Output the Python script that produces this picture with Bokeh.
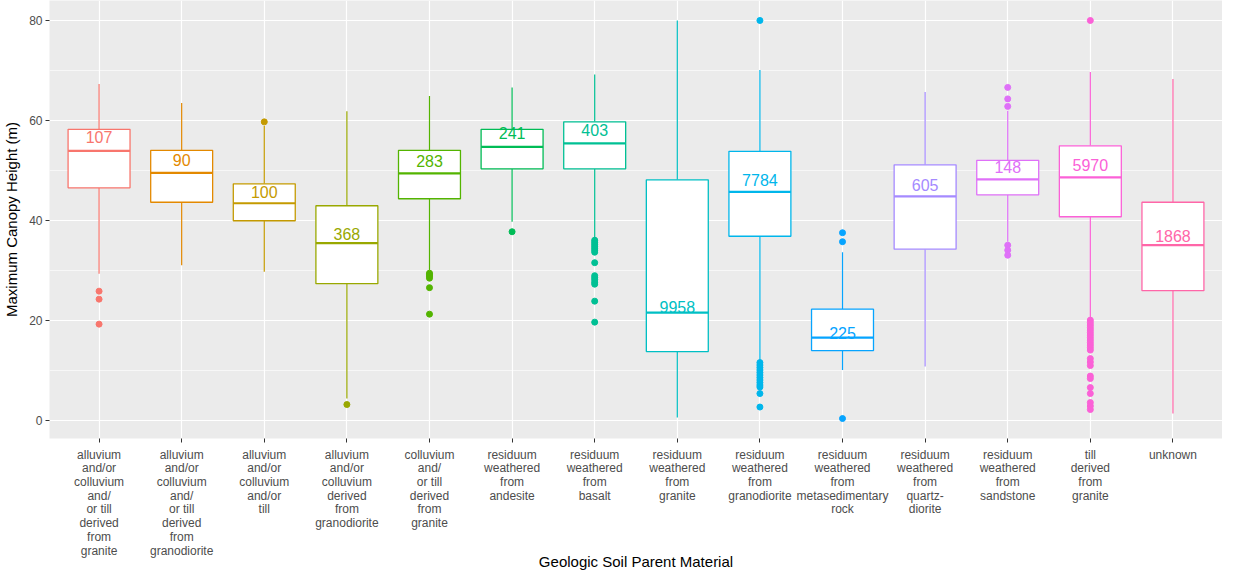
from bokeh.plotting import figure
from bokeh.layouts import column
from bokeh.models import Range1d, FixedTicker, SingleIntervalTicker, ColumnDataSource
from bokeh.embed import file_html
from bokeh.resources import INLINE
from bokeh.core.properties import value

categories = [
    "alluvium\nand/or\ncolluvium\nand/\nor till\nderived\nfrom\ngranite",
    "alluvium\nand/or\ncolluvium\nand/\nor till\nderived\nfrom\ngranodiorite",
    "alluvium\nand/or\ncolluvium\nand/or\ntill",
    "alluvium\nand/or\ncolluvium\nderived\nfrom\ngranodiorite",
    "colluvium\nand/\nor till\nderived\nfrom\ngranite",
    "residuum\nweathered\nfrom\nandesite",
    "residuum\nweathered\nfrom\nbasalt",
    "residuum\nweathered\nfrom\ngranite",
    "residuum\nweathered\nfrom\ngranodiorite",
    "residuum\nweathered\nfrom\nmetasedimentary\nrock",
    "residuum\nweathered\nfrom\nquartz-\ndiorite",
    "residuum\nweathered\nfrom\nsandstone",
    "till\nderived\nfrom\ngranite",
    "unknown",
]
counts = [107, 90, 100, 368, 283, 241, 403, 9958, 7784, 225, 605, 148, 5970, 1868]
lower_whisker = [29.3, 31.0, 29.7, 4.3, 30.0, 39.7, 36.4, 0.5, 11.6, 10.0, 10.7, 35.7, 20.1, 1.3]
q1 = [46.5, 43.6, 39.9, 27.3, 44.3, 50.3, 50.3, 13.7, 36.8, 13.9, 34.2, 45.1, 40.7, 25.9]
median = [53.9, 49.5, 43.4, 35.4, 49.4, 54.7, 55.4, 21.5, 45.7, 16.5, 44.8, 48.2, 48.6, 35.0]
q3 = [58.2, 54.0, 47.3, 42.9, 54.0, 58.2, 59.7, 48.1, 53.8, 22.2, 51.1, 52.0, 54.9, 43.6]
upper_whisker = [67.3, 63.5, 58.9, 61.8, 64.9, 66.6, 69.2, 80.0, 70.1, 33.6, 65.7, 61.9, 69.7, 68.3]
outliers = [
    [25.8, 24.2, 19.2],
    [],
    [59.7],
    [3.1],
    [29.4, 29.1, 28.8, 28.4, 26.5, 21.2],
    [37.7],
    [36.0, 35.6, 35.2, 34.8, 34.4, 34.0, 33.6, 31.5, 28.9, 28.5, 28.1, 27.6, 27.2, 23.8, 19.6],
    [],
    [80.0, 11.5, 11.0, 10.5, 10.0, 9.5, 9.0, 8.5, 8.0, 7.5, 7.0, 6.6, 5.3, 2.6],
    [37.5, 35.7, 0.3],
    [],
    [66.6, 64.3, 62.8, 35.0, 34.0, 33.0],
    [80.0, 20.0, 19.5, 19.0, 18.5, 18.0, 17.5, 17.0, 16.5, 16.0, 15.5, 15.0, 14.5, 14.0,
     12.3, 11.6, 10.9, 8.8, 8.3, 6.5, 5.3, 3.5, 2.8, 2.1],
    [],
]
colors = ["#F8766D", "#E38900", "#C49A00", "#99A800", "#53B400", "#00BC56", "#00C094",
          "#00BFC4", "#00B6EB", "#06A4FF", "#A58AFF", "#DF70F8", "#FB61D7", "#FF66A8"]
x_title = "Geologic Soil Parent Material"
y_title = "Maximum Canopy Height (m)"

FONT = "Liberation Sans"
xs = list(range(1, len(categories) + 1))
half = 0.375
LEFT = 48

src = ColumnDataSource(dict(
    x=xs, left=[x - half for x in xs], right=[x + half for x in xs],
    lw=lower_whisker, q1=q1, med=median, q3=q3, uw=upper_whisker,
    color=colors, label=[str(c) for c in counts],
    label_y=[m * 1.05 for m in median],
))

ox, oy, oc = [], [], []
for i, vals in enumerate(outliers):
    for v in vals:
        ox.append(xs[i]); oy.append(v); oc.append(colors[i])
osrc = ColumnDataSource(dict(x=ox, y=oy, color=oc))

xr = Range1d(0.4, 14.6)

# ---------------- main panel ----------------
p = figure(width=1222, height=446, output_backend="svg", toolbar_location=None,
           x_range=xr, y_range=Range1d(-3.7, 84.0),
           min_border_left=LEFT, min_border_right=0, min_border_top=0, min_border_bottom=8)

p.background_fill_color = "#EBEBEB"
p.border_fill_color = "white"
p.outline_line_color = None

p.xgrid.ticker = FixedTicker(ticks=xs)
p.xgrid.grid_line_color = "white"
p.xgrid.grid_line_width = 1.2
yt = SingleIntervalTicker(interval=20, num_minor_ticks=2)
p.yaxis.ticker = yt
p.ygrid.ticker = yt
p.ygrid.grid_line_color = "white"
p.ygrid.grid_line_width = 1.2
p.ygrid.minor_grid_line_color = "white"
p.ygrid.minor_grid_line_width = 0.6

p.xaxis.ticker = FixedTicker(ticks=xs)
p.xaxis.major_label_overrides = {x: "" for x in xs}
p.xaxis.major_label_text_font_size = "1px"
p.xaxis.major_label_standoff = 0
for ax in (p.xaxis[0], p.yaxis[0]):
    ax.axis_line_color = None
    ax.major_tick_line_color = "#333333"
    ax.major_tick_in = 0
    ax.major_tick_out = 4
    ax.minor_tick_line_color = None
p.yaxis.major_label_text_font = FONT
p.yaxis.major_label_text_font_size = "12px"
p.yaxis.major_label_text_color = "#4D4D4D"
p.yaxis.major_label_standoff = 3
p.yaxis.axis_label = y_title
p.yaxis.axis_label_text_font = FONT
p.yaxis.axis_label_text_font_size = "15px"
p.yaxis.axis_label_text_font_style = "normal"
p.yaxis.axis_label_text_color = "black"
p.yaxis.axis_label_standoff = 6

# whiskers
p.segment(x0="x", y0="q3", x1="x", y1="uw", line_color="color", line_width=1.2, source=src)
p.segment(x0="x", y0="q1", x1="x", y1="lw", line_color="color", line_width=1.2, source=src)
# boxes
p.quad(left="left", right="right", bottom="q1", top="q3", fill_color="white",
       line_color="color", line_width=1.3, source=src)
p.segment(x0="left", y0="med", x1="right", y1="med", line_color="color", line_width=2.2, source=src)
# outliers
p.scatter(x="x", y="y", color="color", size=6, source=osrc)
# counts
p.text(x="x", y="label_y", text="label", text_color="color", text_align="center",
       text_baseline="middle", text_font=value(FONT), text_font_size="16px", source=src)

# ---------------- category labels + x title ----------------
BOTTOM_H = 126
q = figure(width=1222, height=BOTTOM_H, output_backend="svg", toolbar_location=None,
           x_range=xr, y_range=Range1d(0, BOTTOM_H),
           x_axis_location=None, y_axis_location=None,
           min_border_left=LEFT, min_border_right=0, min_border_top=0, min_border_bottom=0)
q.background_fill_color = "white"
q.border_fill_color = "white"
q.outline_line_color = None
q.grid.visible = False

lab_src = ColumnDataSource(dict(x=xs, y=[BOTTOM_H - 1] * len(xs), text=categories))
q.text(x="x", y="y", text="text", source=lab_src, text_align="center", text_baseline="top",
       text_font=value(FONT), text_font_size="12px", text_color="#4D4D4D",
       text_line_height=0.98)
title_src = ColumnDataSource(dict(x=[(xr.start + xr.end) / 2], y=[11], text=[x_title]))
q.text(x="x", y="y", text="text", source=title_src, text_align="center",
       text_baseline="middle", text_font=value(FONT), text_font_size="15px",
       text_color="black")

layout = column(p, q, spacing=0)
open("out.html", "w").write(file_html(layout, INLINE))
